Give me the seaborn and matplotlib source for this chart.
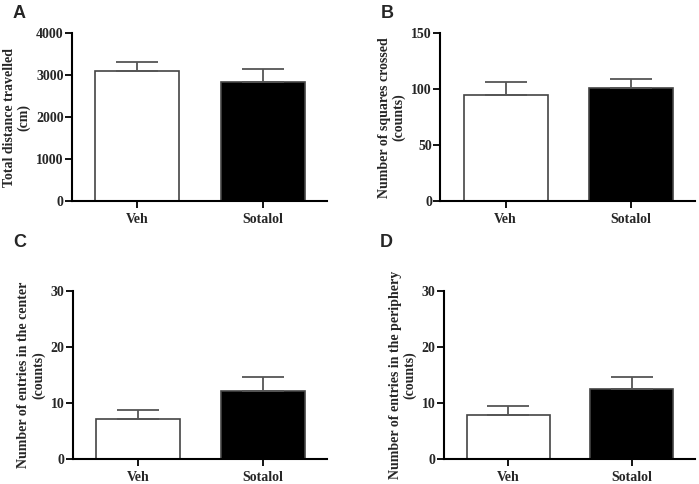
import matplotlib
matplotlib.use("Agg")
import matplotlib.pyplot as plt
import seaborn as sns
import pandas as pd

groups = ["Veh", "Sotalol"]

distance_mean = [3100, 2840]
distance_sem = [220, 305]

squares_mean = [95, 101.5]
squares_sem = [11.5, 8]

center_mean = [7.1, 12.1]
center_sem = [1.7, 2.5]

periphery_mean = [7.9, 12.4]
periphery_sem = [1.6, 2.2]

sns.set_style("ticks")
plt.rcParams["font.family"] = ["Liberation Serif", "DejaVu Serif"]
plt.rcParams["font.weight"] = "bold"
plt.rcParams["axes.labelweight"] = "bold"

fig = plt.figure(figsize=(6.99, 4.84), dpi=100)

panels = [
    ("A", distance_mean, distance_sem, [0, 1000, 2000, 3000, 4000],
     "Total distance travelled\n(cm)", [0.103, 0.585, 0.365, 0.346]),
    ("B", squares_mean, squares_sem, [0, 50, 100, 150],
     "Number of squares crossed\n(counts)", [0.630, 0.585, 0.364, 0.346]),
    ("C", center_mean, center_sem, [0, 10, 20, 30],
     "Number of entries in the center\n(counts)", [0.104, 0.052, 0.364, 0.347]),
    ("D", periphery_mean, periphery_sem, [0, 10, 20, 30],
     "Number of entries in the periphery\n(counts)", [0.635, 0.052, 0.359, 0.347]),
]

letter_pos = {"A": (13, 5), "B": (381, 5), "C": (13, 234), "D": (380, 234)}

for letter, means, sems, yticks, ylabel, rect in panels:
    ax = fig.add_axes(rect)
    df = pd.DataFrame({"group": groups, "value": means})
    sns.barplot(data=df, x="group", y="value", hue="group",
                palette=["white", "black"], edgecolor="#444444",
                linewidth=1.2, width=0.67, errorbar=None, legend=False, ax=ax)
    # SEM, upper half only
    ax.errorbar(range(len(groups)), means, yerr=[[0] * len(sems), sems],
                fmt="none", ecolor="#555555", elinewidth=1.3,
                capsize=15.4, capthick=1.3, zorder=1)
    ax.set_ylim(0, yticks[-1])
    ax.set_yticks(yticks)
    ax.set_xlim(-0.52, 1.51)
    ax.set_xlabel("")
    ax.set_ylabel(ylabel, fontsize=10, labelpad=4, linespacing=1.1)
    ax.tick_params(axis="both", labelsize=10, length=5, width=1.3,
                   direction="out", color="black")
    ax.tick_params(axis="x", pad=4)
    ax.tick_params(axis="y", pad=1)
    for lab in ax.get_xticklabels() + ax.get_yticklabels():
        lab.set_fontweight("bold")
    sns.despine(ax=ax)
    for side in ["left", "bottom"]:
        ax.spines[side].set_linewidth(1.5)
        ax.spines[side].set_color("black")
    lx, ly = letter_pos[letter]
    fig.text(lx / 699, 1 - ly / 484, letter, fontsize=13, fontweight="bold",
             family=["Liberation Sans", "DejaVu Sans"], va="top", ha="left")

fig.savefig("out.png", dpi=100)
